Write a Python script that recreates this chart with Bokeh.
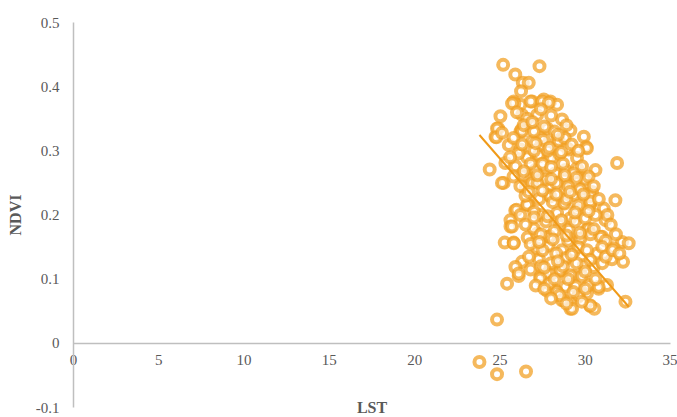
from bokeh.plotting import figure
from bokeh.models import FixedTicker, CustomJSTickFormatter, Range1d, ColumnDataSource
from bokeh.embed import file_html
from bokeh.resources import INLINE
import numpy as np

# LST (x) and NDVI (y) values
lst = [25.19, 27.32, 25.9, 26.34, 26.69, 26.24, 25.81, 26.2, 26.89, 27.57, 27.96, 28.35,
       27.18, 26.3, 25.03, 26.79, 27.77, 24.9, 26.2, 24.74, 25.52, 27.37, 28.35, 26.89,
       25.85, 26.8, 27.47, 27.86, 28.64, 24.83, 26.26, 29.13, 24.79, 29.92, 30.05, 29.03,
       27.9, 27.28, 26.59, 26.2, 27.57, 24.4, 31.87, 25.22, 26.5, 27.08, 28.25, 29.52,
       29.92, 27.67, 28.84, 26.5, 27.9, 28.84, 29.92, 30.4, 31.77, 26.69, 25.9, 28.74,
       30.3, 31.09, 28.35, 27.37, 26.63, 25.97, 25.62, 25.62, 25.28, 25.81, 26.63, 27.18,
       28.78, 29.52, 30.3, 31.19, 29.03, 30.1, 27.9, 29.62, 30.99, 32.16, 32.55, 31.67,
       27.86, 29.33, 30.7, 27.28, 28.84, 31.57, 32.22, 26.3, 25.91, 30.5, 26.1, 25.42,
       28.06, 29.33, 28.55, 27.37, 28.84, 29.43, 30.79, 31.28, 28.25, 27.77, 30.1, 28.74,
       29.56, 29.13, 30.3, 30.54, 32.36, 24.83, 23.8, 24.83, 26.53,
       25.71, 25.12, 26.3, 28.45, 28.93, 30.1, 26.1, 27.28, 28.06, 29.52, 25.32, 27.08,
       28.84, 29.81, 26.3, 25.12, 26.89, 27.67, 29.43, 30.0, 27.86, 29.33, 30.3, 30.6,
       25.91, 27.96, 30.3, 26.59, 29.13, 25.71, 26.98, 30.2, 30.89, 27.9, 29.72, 25.81,
       27.18, 28.64, 28.84, 29.92, 27.77, 28.55, 29.13, 26.1, 27.37, 27.9, 30.2, 30.79,
       28.35, 28.64, 29.62, 30.3, 29.23,
       26.0, 26.6, 27.4, 28.0, 28.9, 26.4, 27.0, 28.2, 28.8, 25.8, 26.3, 27.0, 27.8, 28.5,
       29.2, 29.6, 25.6, 26.8, 27.5, 28.0, 28.7, 29.3, 30.2, 30.5, 25.8, 26.2, 27.2, 28.3,
       29.0, 29.7, 26.5, 27.3, 28.1, 28.9, 29.6, 30.8, 31.3, 26.2, 27.0, 27.7, 28.5, 29.4,
       30.0, 30.6, 31.5, 26.5, 27.4, 28.2, 29.0, 30.3, 31.2, 31.8, 26.8, 27.5, 28.3, 29.6,
       30.1, 31.0, 26.7, 28.0, 28.7, 29.5, 30.3, 31.0, 26.8, 27.4, 28.2, 29.0, 29.8, 30.6,
       27.1, 27.6, 28.5, 29.3, 30.0, 28.0, 28.9, 29.8, 31.2, 31.6, 32.0,
       26.9, 27.6, 28.4, 27.1, 27.9, 28.6, 26.4, 27.2, 28.0, 28.8, 29.5, 26.7, 27.5, 28.3,
       29.1, 29.9, 27.0, 27.8, 28.6, 29.4, 30.2, 27.3, 28.1, 28.9, 29.7, 30.5, 27.6, 28.4,
       29.2, 30.0]
ndvi = [0.434, 0.432, 0.419, 0.406, 0.406, 0.393, 0.377, 0.372, 0.377, 0.380, 0.377, 0.372,
        0.356, 0.356, 0.354, 0.343, 0.335, 0.335, 0.330, 0.322, 0.309, 0.320, 0.317, 0.315,
        0.374, 0.377, 0.377, 0.375, 0.349, 0.335, 0.333, 0.332, 0.321, 0.322, 0.306, 0.302,
        0.289, 0.291, 0.290, 0.302, 0.317, 0.271, 0.281, 0.250, 0.260, 0.268, 0.265, 0.273,
        0.257, 0.260, 0.257, 0.242, 0.245, 0.239, 0.234, 0.236, 0.223, 0.216, 0.207, 0.219,
        0.218, 0.210, 0.203, 0.200, 0.216, 0.208, 0.192, 0.182, 0.157, 0.157, 0.165, 0.171,
        0.218, 0.208, 0.217, 0.192, 0.177, 0.177, 0.167, 0.163, 0.166, 0.158, 0.156, 0.148,
        0.152, 0.143, 0.140, 0.131, 0.131, 0.131, 0.127, 0.127, 0.119, 0.119, 0.105, 0.093,
        0.109, 0.105, 0.113, 0.104, 0.088, 0.089, 0.085, 0.091, 0.083, 0.082, 0.078, 0.067,
        0.072, 0.054, 0.058, 0.054, 0.065, 0.037, -0.029, -0.048, -0.044,
        0.374, 0.328, 0.330, 0.315, 0.304, 0.304, 0.296, 0.294, 0.289, 0.289, 0.281, 0.270,
        0.270, 0.276, 0.262, 0.250, 0.250, 0.255, 0.252, 0.255, 0.231, 0.231, 0.229, 0.270,
        0.276, 0.229, 0.221, 0.216, 0.195, 0.182, 0.179, 0.179, 0.166, 0.166, 0.163, 0.156,
        0.148, 0.145, 0.133, 0.122, 0.109, 0.114, 0.106, 0.109, 0.101, 0.093, 0.091, 0.088,
        0.080, 0.067, 0.075, 0.059, 0.054,
        0.360, 0.350, 0.365, 0.355, 0.340, 0.340, 0.330, 0.330, 0.320, 0.320, 0.310, 0.300,
        0.300, 0.295, 0.310, 0.300, 0.290, 0.280, 0.280, 0.275, 0.280, 0.265, 0.260, 0.245,
        0.260, 0.245, 0.250, 0.250, 0.245, 0.240, 0.230, 0.225, 0.220, 0.225, 0.215, 0.225,
        0.200, 0.200, 0.205, 0.190, 0.185, 0.190, 0.195, 0.200, 0.185, 0.185, 0.170, 0.175,
        0.160, 0.170, 0.160, 0.170, 0.155, 0.145, 0.140, 0.150, 0.145, 0.150, 0.135, 0.125,
        0.120, 0.125, 0.130, 0.125, 0.115, 0.120, 0.100, 0.100, 0.105, 0.100, 0.090, 0.085,
        0.075, 0.080, 0.085, 0.070, 0.062, 0.065, 0.135, 0.145, 0.140,
        0.345, 0.338, 0.325, 0.312, 0.305, 0.298, 0.268, 0.262, 0.256, 0.262, 0.258, 0.236,
        0.238, 0.232, 0.236, 0.232, 0.196, 0.198, 0.192, 0.204, 0.206, 0.158, 0.162, 0.168,
        0.172, 0.178, 0.118, 0.128, 0.138, 0.112]

# linear trend line
trend_slope = -0.0306
trend_intercept = 1.053

x_ticks = [0, 5, 10, 15, 20, 25, 30, 35]
y_ticks = [-0.1, 0.0, 0.1, 0.2, 0.3, 0.4, 0.5]

ORANGE = "#F2A024"
SERIF = "Liberation Serif"

# the frame fills the whole canvas; the axes sit at x = 0 and y = 0 with limited bounds
p = figure(width=677, height=417, output_backend="svg", toolbar_location=None,
           x_range=Range1d(-4.280, 35.411), y_range=Range1d(-0.11558, 0.53429),
           min_border=0, min_border_left=0, min_border_right=0,
           min_border_top=0, min_border_bottom=0)
p.outline_line_color = None
p.xgrid.grid_line_color = None
p.ygrid.grid_line_color = None
p.background_fill_color = "white"
p.border_fill_color = "white"

src = ColumnDataSource(dict(x=lst, y=ndvi))
p.scatter("x", "y", source=src, size=10, line_width=4, line_color=ORANGE, line_alpha=0.74,
          fill_color="white", fill_alpha=0.7)

tx = np.array([min(lst), max(lst)])
p.line(tx, trend_slope * tx + trend_intercept, line_color="#F09A18", line_width=2)

p.xaxis.fixed_location = 0
p.xaxis.bounds = (x_ticks[0], x_ticks[-1])
p.xaxis.ticker = FixedTicker(ticks=x_ticks)
p.xaxis.axis_label = "LST"
p.xaxis.axis_label_standoff = 30
p.xaxis.major_label_standoff = 12

p.yaxis.fixed_location = 0
p.yaxis.bounds = (y_ticks[0], y_ticks[-1])
p.yaxis.ticker = FixedTicker(ticks=y_ticks)
p.yaxis.formatter = CustomJSTickFormatter(
    code="return Math.abs(tick) < 1e-9 ? '0' : tick.toFixed(1);")
p.yaxis.axis_label = "NDVI"
p.yaxis.major_label_standoff = 14
p.yaxis.axis_label_standoff = 9

for ax in (p.xaxis, p.yaxis):
    ax.axis_line_color = "#BFBFBF"
    ax.axis_line_width = 1.5
    ax.major_tick_line_color = None
    ax.minor_tick_line_color = None
    ax.major_tick_out = 0
    ax.major_tick_in = 0
    ax.major_label_text_font = SERIF
    ax.major_label_text_font_size = "15px"
    ax.major_label_text_color = "#595959"
    ax.axis_label_text_font = SERIF
    ax.axis_label_text_font_size = "16px"
    ax.axis_label_text_font_style = "bold"
    ax.axis_label_text_color = "#595959"

open("out.html", "w").write(file_html(p, INLINE))
